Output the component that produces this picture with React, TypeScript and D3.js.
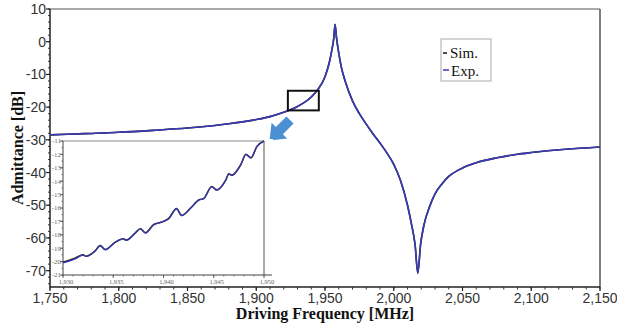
import React from "react";
import * as d3 from "d3";

const freq = [1750, 1775, 1800, 1825, 1850, 1870, 1880, 1900, 1910, 1920, 1930, 1940, 1945, 1950, 1953, 1955, 1956.5, 1957.3, 1958.3, 1960, 1962, 1965, 1970, 1975, 1980, 1985, 1990, 1995, 2000, 2005, 2010, 2013, 2015.5, 2017.5, 2019.5, 2022, 2026, 2030, 2035, 2040, 2050, 2060, 2075, 2090, 2100, 2125, 2150];
const simValues = [-28.5, -28.1, -27.7, -27.1, -26.4, -25.6, -25.1, -23.8, -22.9, -21.6, -19.8, -16.9, -14.5, -10.7, -6.6, -2.5, 1.5, 5.3, 1.5, -3.5, -8, -12.5, -18.1, -22, -25.2, -28.2, -31, -34, -37.5, -42.5, -50, -56, -62, -70.8, -62, -56, -50.5, -46.5, -43.5, -41.2, -38.6, -37, -35.5, -34.4, -33.9, -32.9, -32.2];
const expValues = [-28.5, -28.1, -27.7, -27.1, -26.4, -25.6, -25.1, -23.8, -22.9, -21.6, -19.8, -16.9, -14.5, -10.7, -6.6, -2.5, 1.5, 5.2, 1.5, -3.5, -8, -12.5, -18.1, -22, -25.2, -28.2, -31, -34, -37.5, -42.5, -50, -56, -62, -70.6, -62, -56, -50.5, -46.5, -43.5, -41.2, -38.6, -37, -35.5, -34.4, -33.9, -32.9, -32.2];

const insetFreq = [1930, 1931.2, 1932, 1932.3, 1933.2, 1933.7, 1934.2, 1935.2, 1936, 1936.3, 1937.2, 1937.7, 1938.2, 1939, 1939.8, 1940.5, 1941.3, 1941.8, 1942.7, 1943.5, 1944, 1944.8, 1945.3, 1946.2, 1946.5, 1946.8, 1947.7, 1948.2, 1948.7, 1949.3, 1950];
const insetSim = [-20.05, -19.75, -19.5, -19.6, -19.2, -18.8, -19.1, -18.55, -18.3, -18.4, -17.85, -17.55, -17.85, -17.25, -17.05, -16.8, -16.05, -16.55, -16.0, -15.4, -15.3, -14.4, -14.65, -13.9, -13.45, -13.55, -12.75, -12.0, -12.25, -11.4, -11.0];
const insetExp = [-20.1, -19.8, -19.5, -19.62, -19.22, -18.82, -19.12, -18.57, -18.3, -18.42, -17.87, -17.55, -17.87, -17.27, -17.05, -16.82, -16.05, -16.57, -16.02, -15.42, -15.3, -14.42, -14.67, -13.92, -13.45, -13.57, -12.77, -12.0, -12.27, -11.42, -11.0];

const xTicks = [1750, 1800, 1850, 1900, 1950, 2000, 2050, 2100, 2150];
const yTicks = [10, 0, -10, -20, -30, -40, -50, -60, -70];
const insetXTicks = [1930, 1935, 1940, 1945, 1950];
const insetYTicks = [-11, -12, -13, -14, -15, -16, -17, -18, -19, -20, -21];
const zoomBox = { f0: 1923, f1: 1945.5, v0: -21, v1: -15 };

export default function App() {
  const W = 617, H = 329;
  const L = 50, R = 600, T = 9, B = 287;
  const x = d3.scaleLinear().domain([1750, 2150]).range([L, R]);
  const y = d3.scaleLinear().domain([-75, 10]).range([B, T]);

  const line = d3.line<number>().x((_, i) => x(freq[i])).y((d) => y(d)).curve(d3.curveMonotoneX);

  // inset
  const iL = 63, iR = 264, iT = 141, iB = 275;
  const ix = d3.scaleLinear().domain([1930, 1950]).range([iL, iR]);
  const iy = d3.scaleLinear().domain([-21, -11]).range([iB, iT]);
  const iline = d3.line<number>().x((_, i) => ix(insetFreq[i])).y((d) => iy(d)).curve(d3.curveMonotoneX);

  const xMinor = d3.range(1750, 2151, 10);
  const yMinor = d3.range(-74, 11, 2);
  const ixMinor = d3.range(1930, 1951, 1);
  const iyMinor = d3.range(-21, -10.9, 0.5);

  const sans = "'Liberation Sans', Arial, sans-serif";
  const serif = "'Liberation Serif', 'Times New Roman', serif";

  return (
    <svg width={W} height={H} style={{ position: "absolute", left: 0, top: 0, background: "#fff" }}>
      <rect x={0} y={0} width={W} height={H} fill="#fff" />
      {/* frame */}
      <line x1={L} y1={T} x2={R} y2={T} stroke="#555" strokeWidth={1.2} />
      <line x1={R} y1={T} x2={R} y2={B} stroke="#555" strokeWidth={1.5} />
      <line x1={L} y1={T} x2={L} y2={B} stroke="#222" strokeWidth={1.5} />
      <line x1={L} y1={B} x2={R} y2={B} stroke="#222" strokeWidth={1.5} />

      {/* y ticks */}
      {yMinor.map((v) => (
        <line key={"ym" + v} x1={L - 2} x2={L} y1={y(v)} y2={y(v)} stroke="#333" strokeWidth={1} />
      ))}
      {yTicks.map((v) => (
        <g key={"y" + v}>
          <line x1={L - 4} x2={L} y1={y(v)} y2={y(v)} stroke="#222" strokeWidth={1.2} />
          <text x={L - 4} y={y(v)} dy="0.36em" textAnchor="end" fontFamily={sans} fontSize={14} fill="#333">
            {v}
          </text>
        </g>
      ))}
      {/* x ticks */}
      {xMinor.map((v) => (
        <line key={"xm" + v} x1={x(v)} x2={x(v)} y1={B} y2={B + 2.5} stroke="#333" strokeWidth={1} />
      ))}
      {xTicks.map((v) => (
        <g key={"x" + v}>
          <line x1={x(v)} x2={x(v)} y1={B} y2={B + 4} stroke="#222" strokeWidth={1.2} />
          <text x={x(v)} y={B + 16} textAnchor="middle" fontFamily={sans} fontSize={14} fill="#333">
            {d3.format(",")(v)}
          </text>
        </g>
      ))}

      {/* titles */}
      <text x={325} y={319} textAnchor="middle" fontFamily={serif} fontWeight="bold" fontSize={16} fill="#111">
        Driving Frequency [MHz]
      </text>
      <text transform={`translate(23,${(T + B) / 2}) rotate(-90)`} textAnchor="middle" fontFamily={serif} fontWeight="bold" fontSize={16} fill="#111">
        Admittance [dB]
      </text>

      {/* curves */}
      <path d={line(simValues) || ""} fill="none" stroke="#111" strokeWidth={1.6} />
      <path d={line(expValues) || ""} fill="none" stroke="#3a3ab4" strokeWidth={1.6} />

      {/* zoom box */}
      <rect x={x(zoomBox.f0)} y={y(zoomBox.v1)} width={x(zoomBox.f1) - x(zoomBox.f0)} height={y(zoomBox.v0) - y(zoomBox.v1)} fill="none" stroke="#111" strokeWidth={2} />

      {/* arrow */}
      <g transform="translate(290,120) rotate(135)">
        <polygon points="0,-5 15,-5 15,-11 29,0 15,11 15,5 0,5" fill="#4a90d2" />
      </g>

      {/* legend */}
      <rect x={441} y={39} width={50} height={42} fill="#fff" stroke="#aaa" strokeWidth={1} />
      <line x1={443} x2={447} y1={53} y2={53} stroke="#111" strokeWidth={1.5} />
      <text x={450} y={58} fontFamily={serif} fontSize={15} fill="#111">Sim.</text>
      <line x1={443} x2={449} y1={70} y2={70} stroke="#3a3ab4" strokeWidth={1.5} />
      <text x={451} y={76} fontFamily={serif} fontSize={15} fill="#111">Exp.</text>

      {/* inset */}
      <rect x={L + 1.5} y={iT - 2} width={iR + 9 - L - 1.5} height={B - iT + 1} fill="#fff" />
      <line x1={iL} y1={iT} x2={iR} y2={iT} stroke="#888" strokeWidth={1} />
      <line x1={iR} y1={iT} x2={iR} y2={iB} stroke="#555" strokeWidth={1} />
      <line x1={iL} y1={iT} x2={iL} y2={iB} stroke="#444" strokeWidth={1} />
      <line x1={iL} y1={iB} x2={iR + 8} y2={iB} stroke="#444" strokeWidth={1} />
      {iyMinor.map((v) => (
        <line key={"iym" + v} x1={iL - 1.5} x2={iL} y1={iy(v)} y2={iy(v)} stroke="#555" strokeWidth={0.8} />
      ))}
      {insetYTicks.map((v) => (
        <g key={"iy" + v}>
          <line x1={iL - 3} x2={iL} y1={iy(v)} y2={iy(v)} stroke="#444" strokeWidth={0.8} />
          <text x={iL - 2} y={iy(v)} dy="0.35em" textAnchor="end" fontFamily={serif} fontSize={7} fill="#666">
            {v}
          </text>
        </g>
      ))}
      {ixMinor.map((v) => (
        <line key={"ixm" + v} x1={ix(v)} x2={ix(v)} y1={iB} y2={iB + 1.5} stroke="#555" strokeWidth={0.8} />
      ))}
      {insetXTicks.map((v) => (
        <g key={"ix" + v}>
          <line x1={ix(v)} x2={ix(v)} y1={iB} y2={iB + 3} stroke="#444" strokeWidth={0.8} />
          <text x={ix(v) + 3} y={iB + 9} textAnchor="middle" fontFamily={serif} fontSize={6.5} fill="#666">
            {d3.format(",")(v)}
          </text>
        </g>
      ))}
      <path d={iline(insetSim) || ""} fill="none" stroke="#222" strokeWidth={1.6} />
      <path d={iline(insetExp) || ""} fill="none" stroke="#3a3ab4" strokeWidth={1.2} />
    </svg>
  );
}
